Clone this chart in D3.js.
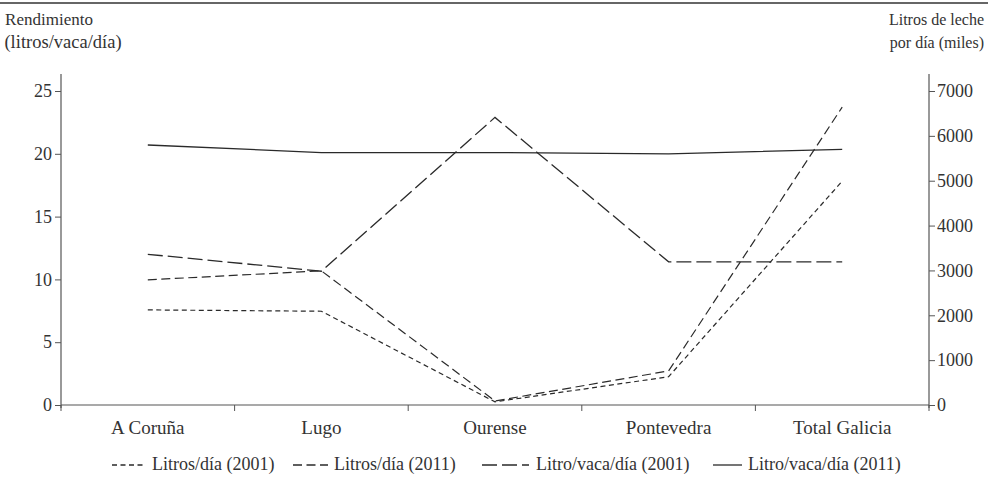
<!DOCTYPE html>
<html><head><meta charset="utf-8">
<script src="https://cdn.jsdelivr.net/npm/d3@7"></script>
<style>
body{margin:0;background:#fff;}
svg{display:block;}
svg text{font-family:"Liberation Serif","DejaVu Serif",serif !important;}
</style></head>
<body><svg id="c" width="988" height="481"></svg>
<script>
const categories = ["A Coruña","Lugo","Ourense","Pontevedra","Total Galicia"];
const litrosDia2001 = [2120, 2090, 70, 630, 4990];
const litrosDia2011 = [2790, 2990, 90, 760, 6640];
const litroVaca2001 = [12.0, 10.65, 22.9, 11.4, 11.4];
const litroVaca2011 = [20.7, 20.1, 20.1, 20.0, 20.35];
const leftTicks = [0,5,10,15,20,25];
const rightTicks = [0,1000,2000,3000,4000,5000,6000,7000];
const legendLabels = ["Litros/día (2001)","Litros/día (2011)","Litro/vaca/día (2001)","Litro/vaca/día (2011)"];

const svg = d3.select("#c");
const ink = "#2a2a2a", axisCol = "#555", txt = "#333";
const L = 61, R = 929, T = 74, B = 405;

const x = d3.scaleBand().domain(categories).range([L, R]);
const yL = d3.scaleLinear().domain([0,25]).range([B, 91]);
const yR = d3.scaleLinear().domain([0,7000]).range([B, 91]);

// top rule
svg.append("line").attr("x1",0).attr("x2",988).attr("y1",3).attr("y2",3)
  .attr("stroke","#333").attr("stroke-width",1.5);

// axis titles
svg.append("text").attr("x",49).attr("y",25).attr("text-anchor","middle")
  .attr("font-size",17).attr("fill",txt).text("Rendimiento");
svg.append("text").attr("x",63).attr("y",48).attr("text-anchor","middle")
  .attr("font-size",18.5).attr("fill",txt).text("(litros/vaca/día)");
svg.append("text").attr("x",984).attr("y",25).attr("text-anchor","end")
  .attr("font-size",16).attr("fill",txt).text("Litros de leche");
svg.append("text").attr("x",984).attr("y",48).attr("text-anchor","end")
  .attr("font-size",16).attr("fill",txt).text("por día (miles)");

// axes
function styleAxis(g){
  g.selectAll("path.domain").remove();
  g.attr("font-family",null).attr("font-size",null);
  g.selectAll(".tick line").attr("stroke",axisCol);
  g.selectAll(".tick text").attr("fill",txt).attr("font-size",18);
}
svg.append("g").attr("transform",`translate(${L},0)`)
  .call(d3.axisLeft(yL).tickValues(leftTicks).tickFormat(d3.format("d")).tickSize(6).tickPadding(3)).call(styleAxis);
svg.append("g").attr("transform",`translate(${R},0)`)
  .call(d3.axisRight(yR).tickValues(rightTicks).tickFormat(d3.format("d")).tickSize(6).tickPadding(2)).call(styleAxis);
svg.append("line").attr("x1",L).attr("x2",L).attr("y1",T).attr("y2",B+3).attr("stroke",axisCol).attr("stroke-width",1.2);
svg.append("line").attr("x1",R).attr("x2",R).attr("y1",T).attr("y2",B+3).attr("stroke",axisCol).attr("stroke-width",1.2);
svg.append("line").attr("x1",L).attr("x2",R).attr("y1",B).attr("y2",B).attr("stroke",axisCol).attr("stroke-width",1.2);

// x ticks at band boundaries
const bounds = categories.map(c => x(c)).concat([x(categories[categories.length-1]) + x.bandwidth()]);
svg.selectAll("line.xt").data(bounds).enter().append("line").attr("class","xt")
  .attr("x1",d=>d).attr("x2",d=>d).attr("y1",B).attr("y2",B+6).attr("stroke",axisCol);
svg.selectAll("text.xl").data(categories).enter().append("text").attr("class","xl")
  .attr("x",d=>x(d)+x.bandwidth()/2).attr("y",434).attr("text-anchor","middle")
  .attr("font-size",19).attr("fill",txt).text(d=>d);

// series
const series = [
  {vals: litrosDia2001, y: yR, dash: "5,3.5", w:1.2},
  {vals: litrosDia2011, y: yR, dash: "9,4.5", w:1.2},
  {vals: litroVaca2001, y: yL, dash: "15,5", w:1.3},
  {vals: litroVaca2011, y: yL, dash: null, w:1.3}
];
series.forEach(s => {
  const line = d3.line().x((d,i)=>x(categories[i])+x.bandwidth()/2).y(d=>s.y(d));
  svg.append("path").attr("d", line(s.vals)).attr("fill","none")
    .attr("stroke",ink).attr("stroke-width",s.w)
    .attr("stroke-dasharray", s.dash);
});

// legend
const legPos = [[112,146,152],[293,328,334],[482,529,536],[713,742,748]];
const ly = 465;
legendLabels.forEach((lab,i) => {
  const p = legPos[i], s = series[i];
  svg.append("line").attr("x1",p[0]).attr("x2",p[1]).attr("y1",ly).attr("y2",ly)
    .attr("stroke",ink).attr("stroke-width",1.3).attr("stroke-dasharray",s.dash);
  svg.append("text").attr("x",p[2]).attr("y",ly+5).attr("font-size",18)
    .attr("fill",txt).text(lab);
});
</script></body></html>
